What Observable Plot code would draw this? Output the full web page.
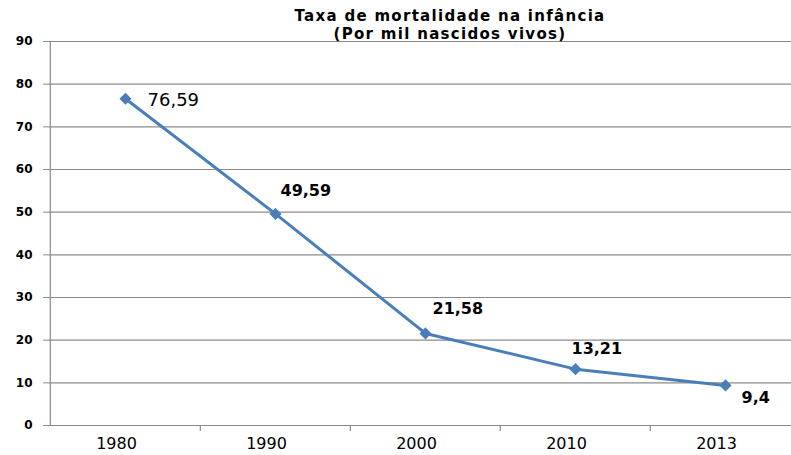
<!DOCTYPE html>
<html><head><meta charset="utf-8">
<script src="https://cdn.jsdelivr.net/npm/d3@7"></script>
<script src="https://cdn.jsdelivr.net/npm/@observablehq/plot@0.6"></script>
<style>
body{margin:0;background:#fff;}
#wrap{position:relative;width:791px;height:455px;overflow:hidden;}
#title{position:absolute;left:0;top:7px;width:900px;text-align:center;font:bold 15px "DejaVu Sans",sans-serif;letter-spacing:1.3px;line-height:18px;color:#000;z-index:2;}
</style></head>
<body>
<div id="wrap"><div id="title"></div><div id="chart"></div></div>
<script>
const titleLines = ["Taxa de mortalidade na infância", "(Por mil nascidos vivos)"];
const years = ["1980", "1990", "2000", "2010", "2013"];
const rates = [76.59, 49.59, 21.58, 13.21, 9.4];
const yTicks = [0, 10, 20, 30, 40, 50, 60, 70, 80, 90];

document.getElementById("title").innerHTML = titleLines.map(t => `<div>${t}</div>`).join("");

const data = years.map((year, i) => ({year, rate: rates[i]}));
const fmt = v => String(v).replace(".", ",");
const blue = "#4A7EBB";
const gray = "#8a8a8a";
const left = 49, right = 801;
const half = (right - left) / years.length / 2;

const labelStyles = [
  {dx: 22, dy: 2, fontWeight: "normal", fontSize: 18},
  {dx: 5, dy: -23, fontWeight: "bold", fontSize: 16},
  {dx: 7, dy: -25, fontWeight: "bold", fontSize: 16},
  {dx: -4, dy: -20, fontWeight: "bold", fontSize: 16},
  {dx: 16, dy: 12, fontWeight: "bold", fontSize: 16}
];

const chart = Plot.plot({
  width: 791,
  height: 455,
  marginTop: 41,
  marginBottom: 30,
  marginLeft: 49,
  marginRight: 0,
  style: {fontFamily: "'DejaVu Sans', sans-serif", background: "transparent", overflow: "hidden"},
  x: {type: "band", domain: years, range: [left, right], padding: 0, label: null},
  y: {domain: [0, 90], label: null},
  marks: [
    Plot.ruleY(yTicks, {stroke: gray, strokeWidth: 1.2}),
    Plot.ruleX([years[0]], {x: d => d, dx: -half, stroke: gray, strokeWidth: 1.2}),
    Plot.ruleX(years.slice(1), {x: d => d, y1: 0, y2: 0, insetBottom: -6, dx: -half, stroke: gray, strokeWidth: 1.2}),
    Plot.axisY({ticks: yTicks, tickSize: 6, tickPadding: 11, stroke: gray, fontWeight: "bold", fontSize: 12, fill: "#000", label: null}),
    Plot.axisX({tickSize: 0, tickPadding: 12, fontSize: 16, fill: "#000", dx: -9, label: null}),
    Plot.line(data, {x: "year", y: "rate", stroke: blue, strokeWidth: 3}),
    Plot.dot(data, {x: "year", y: "rate", symbol: "diamond2", r: 4.5, fill: blue, stroke: blue}),
    ...labelStyles.map((s, i) => Plot.text([data[i]], {
      x: "year", y: "rate", text: d => fmt(d.rate), textAnchor: "start",
      dx: s.dx, dy: s.dy, fontWeight: s.fontWeight, fontSize: s.fontSize, fill: "#000"
    }))
  ]
});
document.getElementById("chart").appendChild(chart);
</script>
</body></html>
